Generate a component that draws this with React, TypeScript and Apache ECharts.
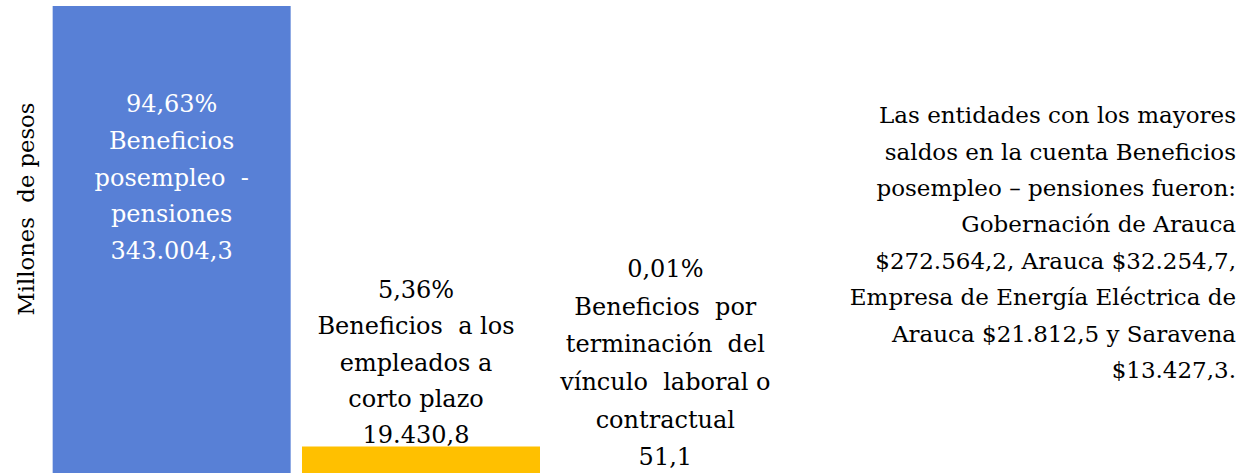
import React, { useEffect, useRef } from "react";
import * as echarts from "echarts";

const categories = [
  "Beneficios posempleo - pensiones",
  "Beneficios a los empleados a corto plazo",
  "Beneficios por terminación del vínculo laboral o contractual",
];
const values = [343004.3, 19430.8, 51.1];
const shares = ["94,63%", "5,36%", "0,01%"];
const valueTexts = ["343.004,3", "19.430,8", "51,1"];
const labelLines = [
  ["Beneficios", "posempleo  -", "pensiones"],
  ["Beneficios  a los", "empleados a", "corto plazo"],
  ["Beneficios  por", "terminación  del", "vínculo  laboral o", "contractual"],
];
const barColors = ["#5880D6", "#FFC000", "#A5A5A5"];
const yAxisTitle = "Millones  de pesos";
const noteLines = [
  "Las entidades con los mayores",
  "saldos en la cuenta Beneficios",
  "posempleo – pensiones fueron:",
  "Gobernación de Arauca",
  "$272.564,2, Arauca $32.254,7,",
  "Empresa de Energía Eléctrica de",
  "Arauca $21.812,5 y Saravena",
  "$13.427,3.",
];

const FONT = "DejaVu Serif";

export default function App() {
  const ref = useRef<HTMLDivElement>(null);
  useEffect(() => {
    if (!ref.current) return;
    const chart = echarts.init(ref.current, null, { renderer: "svg" });
    const labelText = (i: number) =>
      [shares[i], ...labelLines[i], valueTexts[i]].join("\n");
    const data = values.map((v, i) => ({
      value: v,
      itemStyle: { color: barColors[i] },
      label:
        i === 0
          ? {
              show: true,
              position: ["50%", 80],
              align: "center",
              verticalAlign: "top",
              color: "#FFFFFF",
              lineHeight: 36.7,
              formatter: () => labelText(i),
            }
          : {
              show: true,
              position: "top",
              distance: i === 1 ? -7 : -3,
              offset: [-5, 0],
              color: "#000000",
              lineHeight: i === 1 ? 36.3 : 37.6,
              formatter: () => labelText(i),
            },
    }));
    chart.setOption({
      animation: false,
      textStyle: { fontFamily: FONT },
      grid: { left: 47, right: 450, top: 6, bottom: -4, containLabel: false },
      xAxis: {
        type: "category",
        data: categories,
        show: false,
      },
      yAxis: {
        type: "value",
        min: 0,
        max: 343004.3,
        show: false,
      },
      series: [
        {
          type: "bar",
          data,
          barWidth: 238,
          label: {
            fontFamily: FONT,
            fontSize: 24,
            lineHeight: 37,
            align: "center",
          },
        },
      ],
      graphic: [
        {
          type: "text",
          x: 26,
          y: 209,
          rotation: Math.PI / 2,
          style: {
            text: yAxisTitle,
            fontFamily: FONT,
            fontSize: 22.7,
            fill: "#000000",
            align: "center",
            verticalAlign: "middle",
          },
        },
        {
          type: "text",
          x: 1236,
          y: 97,
          style: {
            text: noteLines.join("\n"),
            fontFamily: FONT,
            fontSize: 23,
            lineHeight: 36.4,
            fill: "#000000",
            align: "right",
            verticalAlign: "top",
          },
        },
      ],
    });
    return () => chart.dispose();
  }, []);
  return (
    <div
      ref={ref}
      style={{ position: "absolute", left: 0, top: 0, width: 1245, height: 473 }}
    />
  );
}
